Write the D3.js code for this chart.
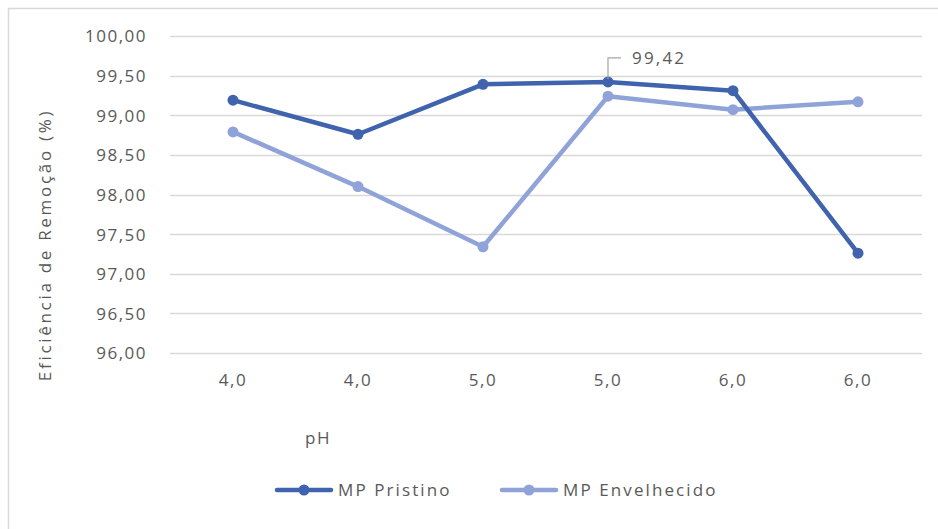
<!DOCTYPE html>
<html><head><meta charset="utf-8">
<script src="https://cdn.jsdelivr.net/npm/d3@7"></script>
<style>body{margin:0;background:#fff}svg{display:block}text{font-family:"Open Sans",sans-serif;fill:#595959}</style>
</head><body>
<script>
const categories = ["4,0","4,0","5,0","5,0","6,0","6,0"];
const pristino = [99.19, 98.76, 99.39, 99.42, 99.31, 97.26];
const envelhecido = [98.79, 98.10, 97.34, 99.24, 99.07, 99.17];
const yTicks = [96, 96.5, 97, 97.5, 98, 98.5, 99, 99.5, 100];
const seriesNames = ["MP Pristino", "MP Envelhecido"];
const colors = ["#3F63AD", "#8FA3D9"];

const W = 938, H = 529;
const svg = d3.select("body").append("svg").attr("width", W).attr("height", H);
svg.append("rect").attr("x", 8.5).attr("y", 8.5).attr("width", W).attr("height", H)
  .attr("fill", "#fff").attr("stroke", "#d9d9d9").attr("stroke-width", 1.5);

const x = d3.scaleBand().domain(d3.range(categories.length)).range([170.5, 920.5]);
const y = d3.scaleLinear().domain([96, 100]).range([353, 36]);
const fmt = v => v.toFixed(2).replace(".", ",");

const grid = svg.append("g");
yTicks.forEach(t => {
  grid.append("line").attr("x1", 170).attr("x2", 922).attr("y1", Math.round(y(t)) + 0.5).attr("y2", Math.round(y(t)) + 0.5)
    .attr("stroke", "#d9d9d9").attr("stroke-width", 1.3);
});
const yAxis = d3.axisLeft(y).tickValues(yTicks).tickFormat(fmt).tickSize(0).tickPadding(0);
const gy = svg.append("g").attr("transform", "translate(147,0)").call(yAxis);
gy.select(".domain").remove();
gy.selectAll("text").style("font-size", "17px").style("letter-spacing", "1.5px").attr("fill", "#595959").attr("dy", "0.35em");

const xAxis = d3.axisBottom(x).tickFormat(i => categories[i]).tickSize(0).tickPadding(0);
const gx = svg.append("g").attr("transform", "translate(0,380)").call(xAxis);
gx.select(".domain").remove();
gx.selectAll("text").style("font-size", "17px").style("letter-spacing", "1.5px").attr("fill", "#595959").attr("dy", "0.35em");

svg.append("text").attr("transform", "translate(45,245) rotate(-90)").attr("text-anchor", "middle")
  .attr("dy", "0.35em").style("font-size", "17px").style("letter-spacing", "2.7px").text("Eficiência de Remoção (%)");
svg.append("text").attr("x", 318).attr("y", 438).attr("text-anchor", "middle").attr("dy", "0.35em")
  .style("font-size", "17px").style("letter-spacing", "1.5px").text("pH");

const line = d3.line().x((d, i) => x(i) + x.bandwidth() / 2).y(d => y(d));
[envelhecido, pristino].forEach((s, k) => {
  const c = k === 0 ? colors[1] : colors[0];
  svg.append("path").datum(s).attr("d", line).attr("fill", "none").attr("stroke", c)
    .attr("stroke-width", 4.5).attr("stroke-linejoin", "round").attr("stroke-linecap", "round");
  svg.append("g").selectAll("circle").data(s).join("circle")
    .attr("cx", (d, i) => x(i) + x.bandwidth() / 2).attr("cy", d => y(d)).attr("r", 5.5).attr("fill", c);
});

// data label for max
const li = 3;
const px = x(li) + x.bandwidth() / 2, py = y(pristino[li]);
svg.append("path").attr("d", `M${px},${py - 3}V${py - 24}H${px + 13}`).attr("fill", "none").attr("stroke", "#a6a6a6").attr("stroke-width", 1.2);
svg.append("text").attr("x", px + 24).attr("y", py - 24).attr("dy", "0.35em").style("font-size", "17px")
  .style("letter-spacing", "2.2px").text(fmt(pristino[li]));

// legend
const legend = [{n: seriesNames[0], c: colors[0], x: 277}, {n: seriesNames[1], c: colors[1], x: 502}];
legend.forEach(l => {
  svg.append("line").attr("x1", l.x).attr("x2", l.x + 54).attr("y1", 490).attr("y2", 490).attr("stroke", l.c).attr("stroke-width", 4.5).attr("stroke-linecap", "round");
  svg.append("circle").attr("cx", l.x + 27).attr("cy", 490).attr("r", 5.5).attr("fill", l.c);
  svg.append("text").attr("x", l.x + 61).attr("y", 490).attr("dy", "0.35em").style("font-size", "17px").style("letter-spacing", "2.1px").text(l.n);
});
</script>
</body></html>
